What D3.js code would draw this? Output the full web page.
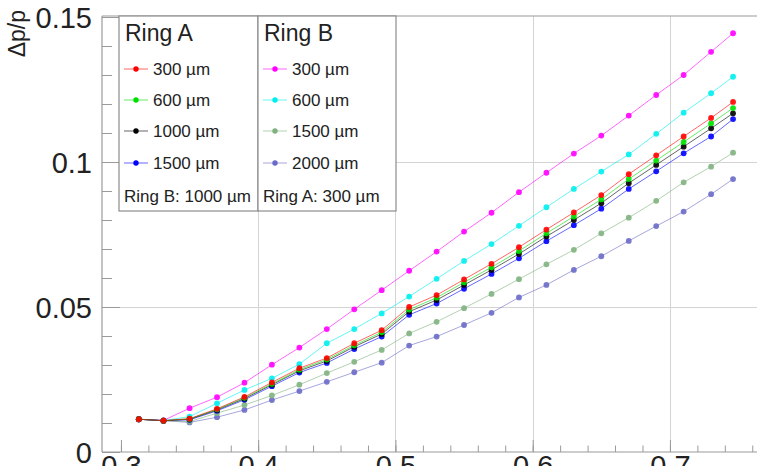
<!DOCTYPE html>
<html>
<head>
<meta charset="utf-8">
<script src="https://cdn.jsdelivr.net/npm/d3@7"></script>
<style>
  html, body { margin: 0; padding: 0; background: #fff; }
  svg { display: block; }
  text { font-family: "Liberation Sans", Arial, Helvetica, sans-serif; fill: #222; }
</style>
</head>
<body>
<svg id="chart" width="757" height="466"></svg>
<script>
// ---------------- data ----------------
const momentum = [0.313, 0.331, 0.35, 0.37, 0.39, 0.41, 0.43, 0.45, 0.47, 0.49, 0.51, 0.53, 0.55, 0.57, 0.59, 0.61, 0.63, 0.65, 0.67, 0.69, 0.71, 0.73, 0.746];

// Ring A scan (Ring B: 1000 µm)
const ringA300  = [0.0113,0.0108,0.0115,0.0149,0.0190,0.0240,0.0289,0.0324,0.0375,0.0420,0.0500,0.0541,0.0595,0.0649,0.0706,0.0767,0.0826,0.0886,0.0958,0.1023,0.1088,0.1152,0.1207];
const ringA600  = [0.0113,0.0108,0.0114,0.0147,0.0187,0.0235,0.0284,0.0319,0.0368,0.0413,0.0491,0.0532,0.0585,0.0637,0.0693,0.0754,0.0812,0.0871,0.0941,0.1005,0.1069,0.1133,0.1186];
const ringA1000 = [0.0113,0.0108,0.0113,0.0145,0.0184,0.0232,0.0280,0.0314,0.0363,0.0407,0.0484,0.0524,0.0576,0.0628,0.0683,0.0743,0.0800,0.0858,0.0927,0.0990,0.1053,0.1116,0.1168];
const ringA1500 = [0.0113,0.0108,0.0111,0.0142,0.0180,0.0227,0.0274,0.0307,0.0355,0.0398,0.0473,0.0512,0.0563,0.0614,0.0668,0.0727,0.0782,0.0839,0.0907,0.0968,0.1030,0.1088,0.1148];

// Ring B scan (Ring A: 300 µm)
const ringB300  = [0.0113,0.0109,0.0151,0.0189,0.0239,0.0301,0.0360,0.0424,0.0492,0.0558,0.0625,0.0691,0.0760,0.0825,0.0896,0.0963,0.1029,0.1091,0.1160,0.1231,0.1300,0.1380,0.1444];
const ringB600  = [0.0113,0.0108,0.0122,0.0168,0.0214,0.0254,0.0303,0.0375,0.0424,0.0478,0.0536,0.0597,0.0659,0.0717,0.0780,0.0844,0.0907,0.0967,0.1026,0.1097,0.1170,0.1237,0.1294];
const ringB1500 = [0.0113,0.0108,0.0105,0.0134,0.0162,0.0195,0.0232,0.0272,0.0311,0.0352,0.0409,0.0449,0.0496,0.0545,0.0596,0.0647,0.0697,0.0754,0.0808,0.0866,0.0930,0.0984,0.1032];
const ringB2000 = [0.0113,0.0108,0.0102,0.0120,0.0145,0.0179,0.0210,0.0242,0.0275,0.0308,0.0367,0.0398,0.0438,0.0480,0.0533,0.0576,0.0628,0.0675,0.0728,0.0779,0.0829,0.0889,0.0941];

const xTicks = [0.3, 0.4, 0.5, 0.6, 0.7];
const yTicks = [0, 0.05, 0.1, 0.15];
const xGrid = [0.4, 0.5, 0.6, 0.7];
const yGrid = [0.05, 0.1];

const legendA = { title: "Ring A", labels: ["300 µm", "600 µm", "1000 µm", "1500 µm"], footer: "Ring B: 1000 µm" };
const legendB = { title: "Ring B", labels: ["300 µm", "600 µm", "1500 µm", "2000 µm"], footer: "Ring A: 300 µm" };

const seriesA = [
  { values: ringA300,  color: "#ff0000" },
  { values: ringA600,  color: "#00e000" },
  { values: ringA1000, color: "#000000" },
  { values: ringA1500, color: "#0000ff" }
];
const seriesB = [
  { values: ringB300,  color: "#ff00ff" },
  { values: ringB600,  color: "#00eeee" },
  { values: ringB1500, color: "#7fb27f" },
  { values: ringB2000, color: "#6a6ac8" }
];

// ---------------- layout ----------------
(function () {
const svg = d3.select("#chart");
const pL = 102, pR = 766, pT = 16, pB = 452;
const x = d3.scaleLinear().domain([0.2862, 0.77]).range([pL, pR]);
const y = d3.scaleLinear().domain([0, 0.15]).range([pB, 17]);
const FRAME = "#9a9a9a";

svg.append("defs").append("clipPath").attr("id", "plotclip")
  .append("rect").attr("x", pL).attr("y", pT).attr("width", pR - pL).attr("height", pB - pT);

// grid
const grid = svg.append("g").attr("shape-rendering", "crispEdges");
grid.selectAll(".gx").data(xGrid).join("line")
  .attr("x1", d => Math.round(x(d)) + 0.5).attr("x2", d => Math.round(x(d)) + 0.5)
  .attr("y1", pT).attr("y2", pB).attr("stroke", "#d4d4d4");
grid.selectAll(".gy").data(yGrid).join("line")
  .attr("y1", d => Math.round(y(d)) + 0.5).attr("y2", d => Math.round(y(d)) + 0.5)
  .attr("x1", pL).attr("x2", pR).attr("stroke", "#d4d4d4");

// axes
const fmt = d => d === 0 ? "0" : String(d);
const yAxis = svg.append("g").attr("transform", `translate(${pL},0)`)
  .call(d3.axisLeft(y).tickValues(yTicks).tickSize(-18).tickPadding(10).tickFormat(fmt));
const yMinor = svg.append("g").attr("transform", `translate(${pL},0)`)
  .call(d3.axisLeft(y).tickValues(d3.range(0, 0.1501, 0.01)).tickSize(-10).tickFormat(""));
const xAxis = svg.append("g").attr("transform", `translate(0,${pB})`)
  .call(d3.axisBottom(x).tickValues(xTicks).tickSize(-12).tickPadding(3).tickFormat(fmt));
const xMinor = svg.append("g").attr("transform", `translate(0,${pB})`)
  .call(d3.axisBottom(x).tickValues(d3.range(0.3, 0.7701, 0.02)).tickSize(-6.5).tickFormat(""));

[yAxis, yMinor, xAxis, xMinor].forEach(g => {
  g.select(".domain").remove();
  g.selectAll(".tick line").attr("stroke", FRAME);
  g.selectAll("text").attr("font-size", 29).attr("fill", "#2a2a2a")
    .attr("font-family", '"Liberation Sans", Arial, sans-serif');
});
yAxis.selectAll("text").attr("dy", "0.36em");

// frame
const frame = svg.append("g").attr("stroke", FRAME).attr("stroke-width", 1.2).attr("fill", "none");
frame.append("line").attr("x1", pL).attr("x2", pL).attr("y1", pT).attr("y2", pB);
frame.append("line").attr("x1", pL).attr("x2", pR).attr("y1", pT).attr("y2", pT);
frame.append("line").attr("x1", pL).attr("x2", pR).attr("y1", pB).attr("y2", pB);

// y title
svg.append("text").attr("transform", "translate(25,10) rotate(-90)")
  .attr("text-anchor", "end").attr("font-size", 23).attr("fill", "#2a2a2a").text("Δp/p");

// data
const plot = svg.append("g").attr("clip-path", "url(#plotclip)");
const line = d3.line().x((d, i) => x(momentum[i])).y(d => y(d));
const allSeries = seriesB.slice().reverse().concat(seriesA.slice().reverse());
allSeries.forEach(s => {
  const g = plot.append("g");
  g.append("path").attr("d", line(s.values)).attr("fill", "none")
    .attr("stroke", s.color).attr("stroke-width", 1).attr("stroke-opacity", 0.6);
  g.selectAll("circle").data(s.values).join("circle")
    .attr("cx", (d, i) => x(momentum[i])).attr("cy", d => y(d))
    .attr("r", 2.9).attr("fill", s.color).attr("fill-opacity", 0.9);
});

// legends
function drawLegend(spec, series, x0, x1) {
  const g = svg.append("g");
  g.append("rect").attr("x", x0).attr("y", pT).attr("width", x1 - x0).attr("height", 211 - pT)
    .attr("fill", "#fff").attr("stroke", "#8c8c8c").attr("stroke-width", 1.2);
  g.append("text").attr("x", x0 + 6).attr("y", 41).attr("font-size", 23).attr("fill", "#2a2a2a").text(spec.title);
  const rows = [69, 100, 131, 163];
  spec.labels.forEach((lab, i) => {
    const ry = rows[i];
    g.append("line").attr("x1", x0 + 5).attr("x2", x0 + 29).attr("y1", ry).attr("y2", ry)
      .attr("stroke", series[i].color).attr("stroke-opacity", 0.6);
    g.append("circle").attr("cx", x0 + 17).attr("cy", ry).attr("r", 2.7).attr("fill", series[i].color);
    g.append("text").attr("x", x0 + 34).attr("y", ry).attr("dy", "0.36em")
      .attr("font-size", 17).attr("fill", "#333").text(lab);
  });
  g.append("text").attr("x", x0 + 5).attr("y", 196).attr("dy", "0.36em")
    .attr("font-size", 17).attr("fill", "#333").text(spec.footer);
}
drawLegend(legendA, seriesA, 119, 258);
drawLegend(legendB, seriesB, 258, 396);
})();
</script>
</body>
</html>
